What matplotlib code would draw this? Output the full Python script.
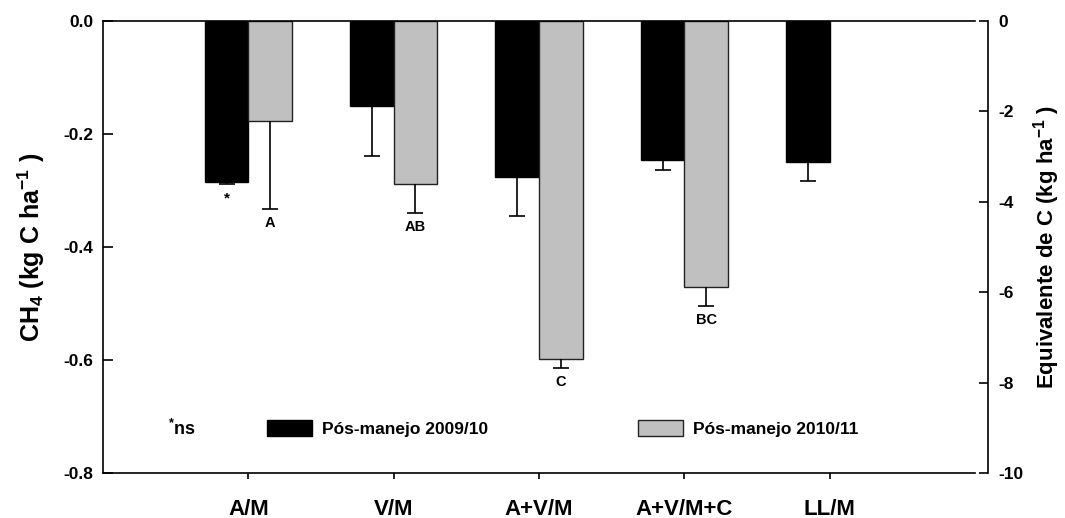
import matplotlib
matplotlib.use("Agg")
import matplotlib.pyplot as plt
import numpy as np

plt.rcParams['font.family'] = ['Liberation Sans', 'DejaVu Sans']
plt.rcParams['font.weight'] = 'bold'
plt.rcParams['mathtext.fontset'] = 'custom'
plt.rcParams['mathtext.rm'] = 'Liberation Sans:bold'
plt.rcParams['mathtext.bf'] = 'Liberation Sans:bold'
plt.rcParams['mathtext.it'] = 'Liberation Sans:bold'

categories = ['A/M', 'V/M', 'A+V/M', 'A+V/M+C', 'LL/M']
ch4_0910 = [-0.285, -0.151, -0.277, -0.246, -0.250]
err_0910 = [0.004, 0.088, 0.068, 0.018, 0.033]
ch4_1011 = [-0.177, -0.289, -0.599, -0.471, np.nan]
err_1011 = [0.155, 0.051, 0.016, 0.033, np.nan]
letters_0910 = ['*', '', '', '', '']
letters_1011 = ['A', 'AB', 'C', 'BC', '']

x = np.arange(1, len(categories) + 1)
w = 0.3

fig = plt.figure(figsize=(10.65, 5.18), dpi=100)
ax = fig.add_axes([0.0967, 0.0869, 0.8188, 0.8726])

ax.bar(x - w/2, ch4_0910, w, color='black', edgecolor='black', linewidth=1,
       label='Pós-manejo 2009/10')
ax.bar(x + w/2, ch4_1011, w, color='#c0c0c0', edgecolor='#222222', linewidth=1,
       label='Pós-manejo 2010/11')

# one-sided (downward) error bars with a cap only at the lower end
for xs, vals, errs in [(x - w/2, ch4_0910, err_0910),
                       (x + w/2, ch4_1011, err_1011)]:
    vals = np.array(vals)
    low = vals - np.array(errs)
    ax.vlines(xs, low, vals, color='black', linewidth=1.2)
    ax.plot(xs, low, ls='none', marker='_', markersize=11.5,
            markeredgewidth=1.2, color='black')

for xi, v, e, t in zip(x - w/2, ch4_0910, err_0910, letters_0910):
    if t:
        ax.annotate(t, (xi, v - e), xytext=(0, -5.5), textcoords='offset points',
                    ha='center', va='top', fontsize=11, fontweight='bold')
for xi, v, e, t in zip(x + w/2, ch4_1011, err_1011, letters_1011):
    if t:
        ax.annotate(t, (xi, v - e), xytext=(0, -5), textcoords='offset points',
                    ha='center', va='top', fontsize=10.5, fontweight='bold')

ax.set_xlim(0, 6)
ax.set_ylim(-0.8, 0)
ax.set_xticks(x)
ax.set_xticklabels(categories, fontsize=16, fontweight='bold')
ax.set_yticks([0, -0.2, -0.4, -0.6, -0.8])
ax.set_yticklabels(['0.0', '-0.2', '-0.4', '-0.6', '-0.8'])
ax.tick_params(axis='y', direction='in', length=7, width=1.2, pad=7,
               labelsize=12.5)
ax.tick_params(axis='x', direction='out', length=4.5, width=1.2, pad=14)
ax.spines['right'].set_visible(False)
for s in ['left', 'top', 'bottom']:
    ax.spines[s].set_linewidth(1.2)
ax.set_ylabel(r'CH$_{4}$ (kg C ha$^{-1}$ )', fontsize=18, fontweight='bold',
              labelpad=12)

ax2 = ax.twinx()
ax2.set_ylim(-10, 0)
ax2.set_yticks([0, -2, -4, -6, -8, -10])
ax2.set_yticklabels(['0', '-2', '-4', '-6', '-8', '-10'])
for s in ['left', 'top', 'bottom']:
    ax2.spines[s].set_visible(False)
ax2.spines['right'].set_position(('outward', 9))
ax2.spines['right'].set_linewidth(1.2)
ax2.tick_params(axis='y', direction='in', length=6.5, width=1.2, pad=8,
                labelsize=12.5)
ax2.set_ylabel(r'Equivalente de C (kg ha$^{-1}$ )', fontsize=16,
               fontweight='bold', labelpad=5)

ax.text(0.075, 0.0985, r'$^{*}$ns', transform=ax.transAxes, fontsize=13,
        fontweight='bold', va='center', ha='left')
ax.legend(ncol=2, loc='center left', bbox_to_anchor=(0.1877, 0.0985),
          frameon=False, fontsize=12.5, handlelength=2.6, handleheight=1.0,
          handletextpad=0.6, columnspacing=8.6, borderpad=0, borderaxespad=0)

fig.savefig('out.png', dpi=100)
